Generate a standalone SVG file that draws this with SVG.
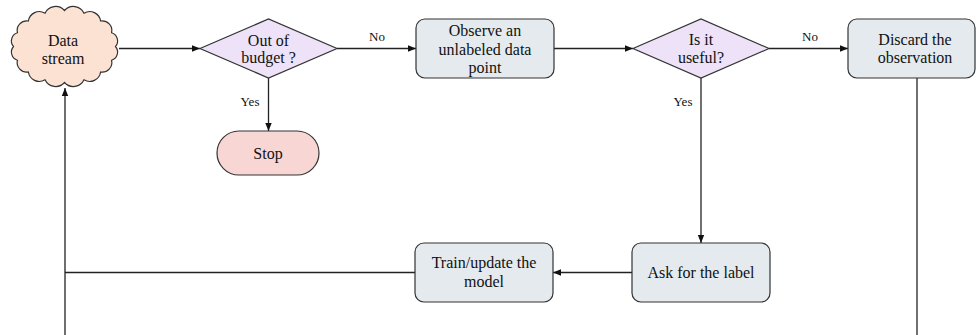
<svg xmlns="http://www.w3.org/2000/svg" width="976" height="335" viewBox="0 0 976 335">
<defs>
<style>
text{font-family:"Liberation Serif","DejaVu Serif","Noto Serif",serif;font-size:16px;fill:#111;text-anchor:middle}
.lbl{font-size:13px}
.edge{fill:none;stroke:#222;stroke-width:1.3}
.box{fill:#e4eaee;stroke:#333;stroke-width:1.2}
.dia{fill:#ede2f8;stroke:#333;stroke-width:1.2}
.cloud{fill:#fbe2d3;stroke:#333;stroke-width:1.2}
.stop{fill:#f8d6d4;stroke:#333;stroke-width:1.2}
</style>
<marker id="arr" viewBox="0 0 10 10" refX="10" refY="5" markerWidth="8" markerHeight="8" markerUnits="userSpaceOnUse" orient="auto">
<path d="M0,1 L10,5 L0,9 Z" fill="#111"/>
</marker>
</defs>
<rect width="976" height="335" fill="#fff"/>
<g id="connectors">
<path class="edge" d="M119,48.5 H200" marker-end="url(#arr)"/>
<path class="edge" d="M337,48.5 H416" marker-end="url(#arr)"/>
<path class="edge" d="M268.5,78 V131" marker-end="url(#arr)"/>
<path class="edge" d="M554,48.5 H633" marker-end="url(#arr)"/>
<path class="edge" d="M769,48.5 H848" marker-end="url(#arr)"/>
<path class="edge" d="M701,78 V243" marker-end="url(#arr)"/>
<path class="edge" d="M632,272.5 H553" marker-end="url(#arr)"/>
<path class="edge" d="M415,272.5 H65"/>
<path class="edge" d="M917,78 V336"/>
<path class="edge" d="M65,336 V88" marker-end="url(#arr)"/>
<text class="lbl" x="377" y="41" font-family="Liberation Serif, DejaVu Serif, serif">No</text>
<text class="lbl" x="250" y="106" font-family="Liberation Serif, DejaVu Serif, serif">Yes</text>
<text class="lbl" x="810" y="41" font-family="Liberation Serif, DejaVu Serif, serif">No</text>
<text class="lbl" x="683" y="106" font-family="Liberation Serif, DejaVu Serif, serif">Yes</text>
</g>
<g id="data-stream">
<path class="cloud" d="M115.5,46.5 A8.6,8.6 0 0 1 111.6,60.3 A9.7,9.7 0 0 1 100.6,72 A11,11 0 0 1 84,79.8 A11.8,11.8 0 0 1 64.5,82.5 A11.8,11.8 0 0 1 45,79.8 A11,11 0 0 1 28.4,72 A9.7,9.7 0 0 1 17.4,60.3 A8.6,8.6 0 0 1 13.5,46.5 A8.6,8.6 0 0 1 17.4,32.7 A9.7,9.7 0 0 1 28.4,21 A11,11 0 0 1 45,13.2 A11.8,11.8 0 0 1 64.5,10.5 A11.8,11.8 0 0 1 84,13.2 A11,11 0 0 1 100.6,21 A9.7,9.7 0 0 1 111.6,32.7 A8.6,8.6 0 0 1 115.5,46.5 Z"/>
<text x="63" y="46">Data</text>
<text x="63" y="64">stream</text>
</g>
<g id="out-of-budget">
<polygon class="dia" points="200,48.5 268.5,19 337,48.5 268.5,78"/>
<text x="268.5" y="46">Out of</text>
<text x="268.5" y="63">budget ?</text>
</g>
<g id="stop">
<rect class="stop" x="217" y="131" width="102" height="44" rx="22"/>
<text x="268" y="159">Stop</text>
</g>
<g id="observe">
<rect class="box" x="416" y="19" width="138" height="59" rx="9"/>
<text x="485" y="36">Observe an</text>
<text x="485" y="54.5">unlabeled data</text>
<text x="485" y="73">point</text>
</g>
<g id="is-useful">
<polygon class="dia" points="633,48.5 701,19 769,48.5 701,78"/>
<text x="701" y="45">Is it</text>
<text x="701" y="63">useful?</text>
</g>
<g id="discard">
<rect class="box" x="848" y="19" width="127" height="59" rx="9"/>
<text x="915" y="45">Discard the</text>
<text x="915" y="63">observation</text>
</g>
<g id="ask-label">
<rect class="box" x="632" y="243" width="138" height="59" rx="9"/>
<text x="701" y="278">Ask for the label</text>
</g>
<g id="train">
<rect class="box" x="415" y="243" width="138" height="59" rx="9"/>
<text x="484" y="268">Train/update the</text>
<text x="484" y="287">model</text>
</g>
</svg>
